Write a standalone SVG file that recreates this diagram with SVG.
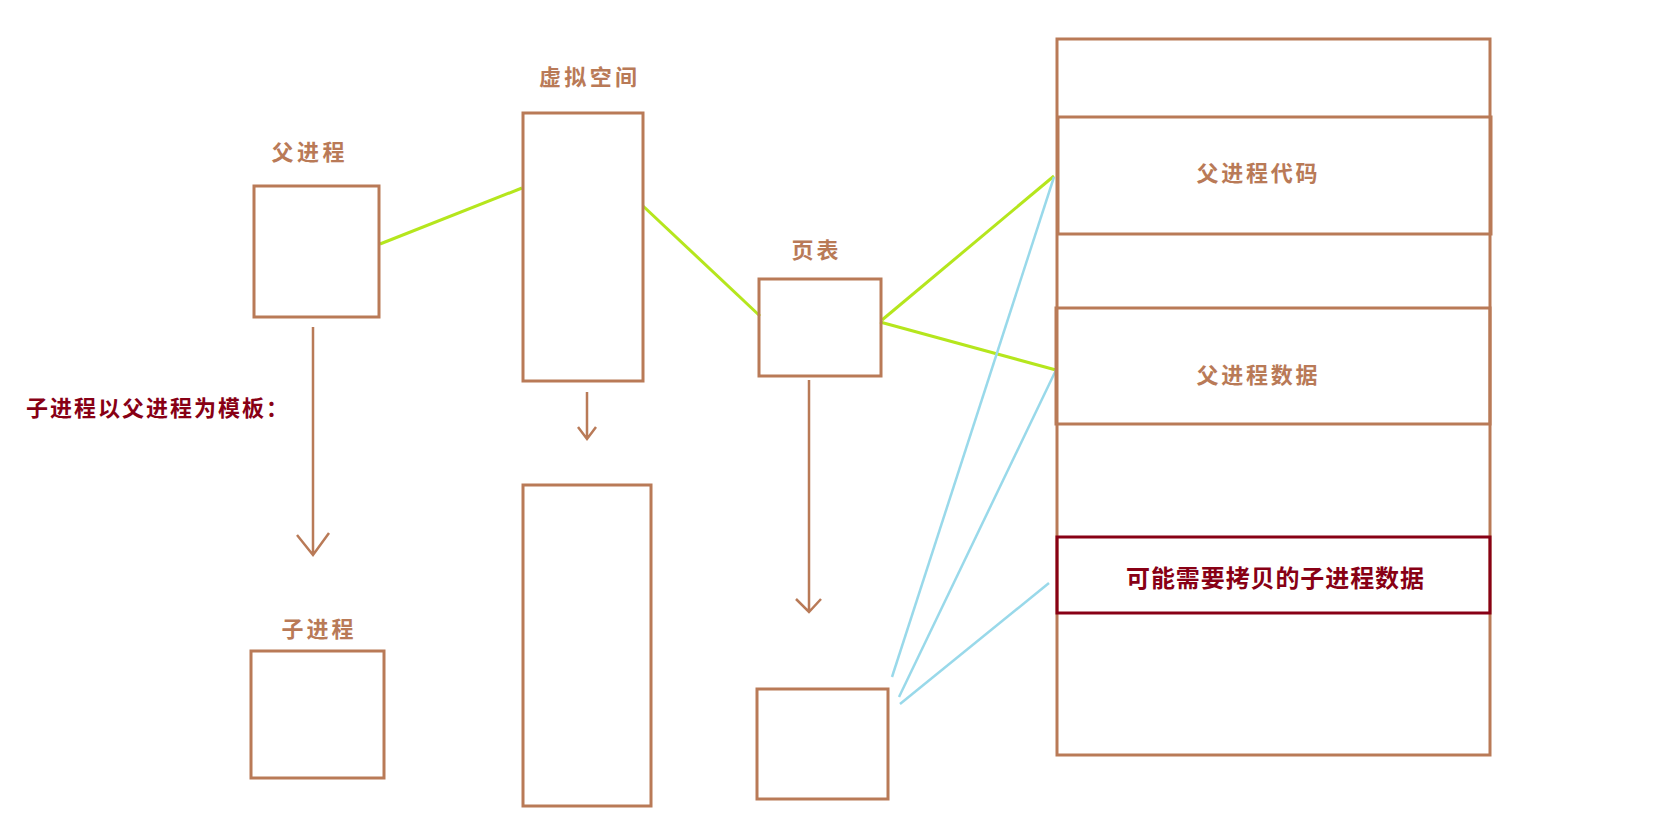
<svg xmlns="http://www.w3.org/2000/svg" width="1679" height="823" viewBox="0 0 1679 823">
<style>
.box{fill:none;stroke:#B97A57;stroke-width:3}
.red{fill:none;stroke:#880015;stroke-width:3}
.lbl{font-family:"Noto Sans CJK SC","Noto Sans",sans-serif;font-weight:bold;fill:#B97A57;text-anchor:middle}
.rtxt{font-family:"Noto Sans CJK SC","Noto Sans",sans-serif;font-weight:bold;fill:#880015}
.g{stroke:#B5E61D;stroke-width:3;fill:none}
.b{stroke:#99D9EA;stroke-width:2.5;fill:none}
.arr{stroke:#B97A57;stroke-width:2.5;fill:none}
</style>
<rect width="1679" height="823" fill="#ffffff"/>
<g id="connectors">
<line class="g" x1="380" y1="244" x2="522" y2="188"/>
<line class="g" x1="643" y1="206" x2="760" y2="316"/>
<line class="g" x1="882" y1="320" x2="1054" y2="176"/>
<line class="g" x1="880" y1="322" x2="1056" y2="370"/>
<line class="b" x1="1054" y1="177" x2="892" y2="677"/>
<line class="b" x1="1056" y1="370" x2="899" y2="697"/>
<line class="b" x1="1049" y1="583" x2="900" y2="704"/>
<path class="arr" d="M313 327V555M297 535L313 555L329 533"/>
<path class="arr" d="M587 392V439M578 427L587 439L596 427"/>
<path class="arr" d="M809 380V612M796 599L809 612L821 599"/>
</g>
<g id="parent">
<text class="lbl" x="308" y="159.5" font-size="22" textLength="73" lengthAdjust="spacing">父进程</text>
<rect class="box" x="254" y="186" width="125" height="131"/>
</g>
<g id="vspace">
<text class="lbl" x="588" y="85" font-size="22" textLength="98" lengthAdjust="spacing">虚拟空间</text>
<rect class="box" x="523" y="113" width="120" height="268"/>
</g>
<g id="pagetable">
<text class="lbl" x="815" y="258" font-size="22" textLength="47" lengthAdjust="spacing">页表</text>
<rect class="box" x="759" y="279" width="122" height="97"/>
</g>
<g id="memory">
<rect class="box" x="1057" y="39" width="433" height="716"/>
</g>
<g id="code">
<rect class="box" x="1058" y="117" width="433" height="117"/>
<text class="lbl" x="1257" y="181" font-size="22" textLength="121" lengthAdjust="spacing">父进程代码</text>
</g>
<g id="data">
<rect class="box" x="1056" y="308" width="434" height="116"/>
<text class="lbl" x="1257" y="383" font-size="22" textLength="121" lengthAdjust="spacing">父进程数据</text>
</g>
<g id="childdata">
<rect class="red" x="1057" y="537" width="433" height="76"/>
<text class="rtxt" x="1275" y="587" font-size="24" text-anchor="middle" textLength="298" lengthAdjust="spacing">可能需要拷贝的子进程数据</text>
</g>
<g id="note">
<text class="rtxt" x="26" y="416" font-size="22" textLength="262" lengthAdjust="spacing">子进程以父进程为模板：</text>
</g>
<g id="child">
<text class="lbl" x="317.5" y="636.5" font-size="22" textLength="72" lengthAdjust="spacing">子进程</text>
<rect class="box" x="251" y="651" width="133" height="127"/>
</g>
<g id="childvspace">
<rect class="box" x="523" y="485" width="128" height="321"/>
</g>
<g id="childpagetable">
<rect class="box" x="757" y="689" width="131" height="110"/>
</g>
</svg>
